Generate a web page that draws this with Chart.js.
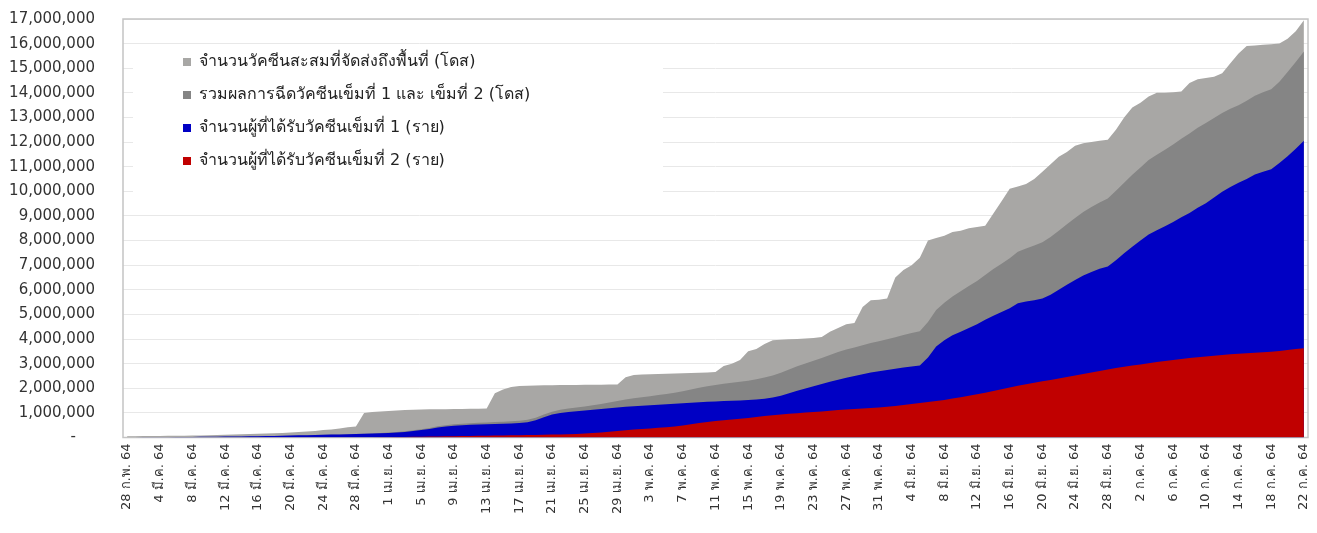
<!DOCTYPE html>
<html><head><meta charset="utf-8">
<script src="https://cdn.jsdelivr.net/npm/chart.js@4/dist/chart.umd.min.js"></script>
<style>html,body{margin:0;padding:0;background:#fff;}canvas{display:block;}</style>
</head><body>
<canvas id="c" width="1317" height="533"></canvas>
<script>
// ---- categories (daily, 28 Feb 2021 .. 22 Jul 2021) ----
const monthNames = ['ก.พ.','มี.ค.','เม.ย.','พ.ค.','มิ.ย.','ก.ค.'];
const monthFirstDay = [28,1,1,1,1,1];
const monthLastDay  = [28,31,30,31,30,22];
const yearLabel = '64';
const categories = [];
for (let m = 0; m < monthNames.length; m++) {
  for (let d = monthFirstDay[m]; d <= monthLastDay[m]; d++) categories.push(d + ' ' + monthNames[m] + ' ' + yearLabel);
}

// ---- series ----
const seriesNames = [
  'จำนวนวัคซีนสะสมที่จัดส่งถึงพื้นที่ (โดส)',
  'รวมผลการฉีดวัคซีนเข็มที่ 1 และ เข็มที่ 2 (โดส)',
  'จำนวนผู้ที่ได้รับวัคซีนเข็มที่ 1 (ราย)',
  'จำนวนผู้ที่ได้รับวัคซีนเข็มที่ 2 (ราย)'
];
const delivered = [
50000,55000,60000,62000,65000,68000,70000,75000,80000,85000,
90000,100000,110000,120000,130000,140000,150000,160000,170000,180000,
200000,220000,240000,260000,300000,330000,370000,420000,450000,1000000,
1040000,1060000,1080000,1100000,1120000,1130000,1140000,1145000,1150000,1150000,
1155000,1160000,1165000,1170000,1180000,1800000,1950000,2050000,2090000,2100000,
2110000,2120000,2125000,2130000,2130000,2135000,2140000,2140000,2145000,2150000,
2150000,2450000,2540000,2560000,2570000,2580000,2590000,2600000,2610000,2620000,
2630000,2640000,2660000,2900000,3000000,3150000,3500000,3600000,3800000,3950000,
3970000,3990000,4000000,4020000,4040000,4080000,4300000,4450000,4600000,4650000,
5300000,5580000,5600000,5650000,6500000,6800000,7000000,7300000,8000000,8100000,
8200000,8350000,8400000,8500000,8550000,8600000,9100000,9600000,10100000,10200000,
10300000,10500000,10800000,11100000,11400000,11600000,11850000,11950000,12000000,12050000,
12100000,12500000,13000000,13400000,13600000,13850000,14000000,14000000,14020000,14050000,
14400000,14550000,14600000,14650000,14800000,15200000,15600000,15900000,15920000,15950000,
15970000,16000000,16200000,16500000,16950000
];
const totalDoses = [
0,3000,6000,9000,12000,15000,18000,21000,24000,27000,
30000,33000,36000,40000,45000,50000,55000,60000,66000,72000,
80000,88000,95000,102000,110000,118000,125000,132000,140000,150000,
165000,182000,200000,220000,250000,290000,335000,390000,455000,500000,
535000,560000,580000,595000,610000,625000,640000,660000,685000,720000,
805000,930000,1048000,1126000,1175000,1215000,1260000,1310000,1365000,1420000,
1480000,1540000,1590000,1635000,1680000,1725000,1770000,1820000,1880000,1950000,
2020000,2080000,2135000,2180000,2225000,2265000,2310000,2370000,2440000,2520000,
2630000,2760000,2890000,3010000,3120000,3230000,3350000,3470000,3570000,3660000,
3750000,3840000,3910000,3990000,4070000,4160000,4240000,4320000,4690000,5180000,
5470000,5730000,5940000,6150000,6360000,6600000,6840000,7060000,7280000,7550000,
7680000,7800000,7930000,8140000,8400000,8660000,8920000,9160000,9360000,9550000,
9710000,10020000,10350000,10670000,10970000,11270000,11490000,11690000,11900000,12140000,
12350000,12580000,12780000,12980000,13180000,13350000,13500000,13680000,13880000,14020000,
14150000,14450000,14850000,15250000,15680000
];
const dose1 = [
0,3000,6000,9000,12000,15000,18000,21000,24000,27000,
30000,33000,36000,40000,45000,50000,55000,60000,66000,72000,
80000,88000,95000,102000,110000,118000,125000,132000,140000,150000,
160000,172000,185000,200000,225000,260000,300000,350000,410000,450000,
480000,500000,515000,525000,535000,545000,555000,570000,590000,620000,
700000,820000,930000,1000000,1040000,1070000,1100000,1130000,1160000,1190000,
1220000,1250000,1270000,1290000,1310000,1330000,1350000,1370000,1390000,1410000,
1430000,1450000,1465000,1480000,1495000,1505000,1520000,1540000,1570000,1620000,
1700000,1800000,1900000,1990000,2080000,2170000,2260000,2350000,2430000,2500000,
2570000,2640000,2690000,2740000,2790000,2840000,2880000,2920000,3250000,3700000,
3950000,4150000,4300000,4450000,4600000,4780000,4950000,5100000,5250000,5450000,
5520000,5580000,5650000,5800000,6000000,6200000,6400000,6580000,6720000,6850000,
6950000,7200000,7480000,7750000,8000000,8250000,8420000,8580000,8750000,8950000,
9120000,9330000,9520000,9750000,9980000,10180000,10350000,10500000,10680000,10800000,
10900000,11150000,11420000,11730000,12050000
];
const dose2 = [
0,0,0,0,0,0,0,0,0,0,
0,0,0,0,0,0,0,0,0,0,
0,0,0,0,0,0,0,0,0,0,
5000,10000,15000,20000,25000,30000,35000,40000,45000,50000,
55000,60000,65000,70000,75000,80000,85000,90000,95000,100000,
105000,110000,118000,126000,135000,145000,160000,180000,205000,230000,
260000,290000,320000,345000,370000,395000,420000,450000,490000,540000,
590000,630000,670000,700000,730000,760000,790000,830000,870000,900000,
930000,960000,990000,1020000,1040000,1060000,1090000,1120000,1140000,1160000,
1180000,1200000,1220000,1250000,1280000,1320000,1360000,1400000,1440000,1480000,
1520000,1580000,1640000,1700000,1760000,1820000,1890000,1960000,2030000,2100000,
2160000,2220000,2280000,2340000,2400000,2460000,2520000,2580000,2640000,2700000,
2760000,2820000,2870000,2920000,2970000,3020000,3070000,3110000,3150000,3190000,
3230000,3260000,3290000,3320000,3350000,3380000,3400000,3420000,3440000,3460000,
3480000,3510000,3550000,3590000,3630000
];
const seriesColors = ['#a8a7a5','#858585','#0000c4','#c00000'];

// ---- y ticks ----
const yMax = 17000000;
const yStep = 1000000;

const FONT = 'Tahoma, "DejaVu Sans", "Noto Sans", sans-serif';

const legendPlugin = {
  id: 'insideLegend',
  beforeDatasetsDraw(chart) {
    const ctx = chart.ctx, a = chart.chartArea;
    ctx.save();
    ctx.fillStyle = '#ffffff';
    ctx.fillRect(a.left + 10, 45, 530, 167);
    ctx.restore();
  },
  afterDatasetsDraw(chart) {
    const ctx = chart.ctx;
    const rows = [62, 95, 128, 161];
    ctx.save();
    ctx.font = '16px ' + FONT;
    ctx.textBaseline = 'middle';
    ctx.textAlign = 'left';
    seriesNames.forEach((n, i) => {
      ctx.fillStyle = seriesColors[i];
      ctx.fillRect(183, rows[i] - 4, 8, 8);
      ctx.fillStyle = '#222';
      ctx.fillText(n, 199, rows[i]);
    });
    ctx.restore();
  }
};
const framePlugin = {
  id: 'frame',
  beforeDatasetsDraw(chart) {
    const a = chart.chartArea, ctx = chart.ctx;
    ctx.save();
    ctx.strokeStyle = '#c4c4c4';
    ctx.lineWidth = 1.5;
    ctx.strokeRect(a.left, a.top, a.right - a.left, a.bottom - a.top);
    ctx.restore();
  }
};

const mk = (i, arr, order) => ({
  label: seriesNames[i], data: arr, backgroundColor: seriesColors[i], borderColor: seriesColors[i],
  borderWidth: 0, pointRadius: 0, fill: 'origin', tension: 0, order: order
});

new Chart(document.getElementById('c'), {
  type: 'line',
  data: {
    labels: categories,
    datasets: [mk(0, delivered, 4), mk(1, totalDoses, 3), mk(2, dose1, 2), mk(3, dose2, 1)]
  },
  options: {
    responsive: false, animation: false, devicePixelRatio: 1,
    layout: { padding: { top: 19, right: 9, left: 0, bottom: 0 } },
    plugins: { legend: { display: false }, tooltip: { enabled: false } },
    scales: {
      x: {
        type: 'category', offset: true,
        grid: { display: false, drawTicks: false }, border: { display: false },
        ticks: {
          autoSkip: false, maxRotation: 90, minRotation: 90, padding: 6,
          font: { family: FONT, size: 13 }, color: '#333',
          callback(v, i) { return i % 4 === 0 ? categories[i] : ''; }
        },
        afterFit(s) { s.height = 95.5; s.paddingLeft = 0; s.paddingRight = 0; }
      },
      y: {
        min: 0, max: yMax,
        grid: { color: '#e8e8e8', drawTicks: false }, border: { display: false },
        ticks: {
          stepSize: yStep, padding: 28, font: { family: FONT, size: 15 }, color: '#333',
          callback(v) { return v === 0 ? '-    ' : v.toLocaleString('en-US'); }
        },
        afterFit(s) { s.width = 123; s.paddingTop = 0; s.paddingBottom = 0; }
      }
    }
  },
  plugins: [framePlugin, legendPlugin]
});
</script>
</body></html>
